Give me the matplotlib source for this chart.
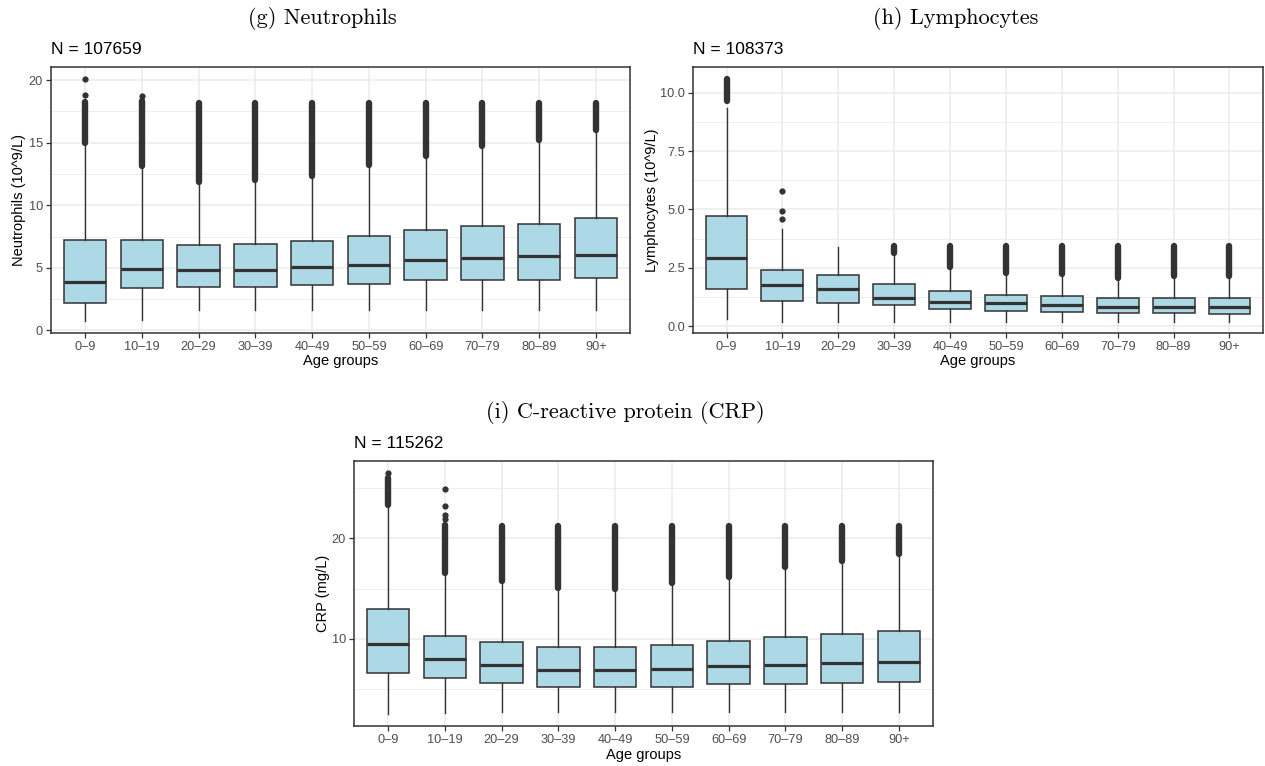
import matplotlib
matplotlib.use("Agg")
import matplotlib.pyplot as plt
import numpy as np

# ---------------- data ----------------
age_groups = ["0–9", "10–19", "20–29", "30–39", "40–49", "50–59", "60–69", "70–79", "80–89", "90+"]

# (g) Neutrophils
neu_n = 107659
neu_q1 = [2.19, 3.42, 3.47, 3.47, 3.66, 3.74, 4.00, 4.06, 4.06, 4.22]
neu_med = [3.85, 4.92, 4.86, 4.84, 5.05, 5.26, 5.61, 5.79, 5.95, 6.04]
neu_q3 = [7.26, 7.24, 6.81, 6.89, 7.16, 7.53, 8.01, 8.33, 8.54, 8.95]
neu_wlo = [0.72, 0.82, 1.62, 1.62, 1.62, 1.62, 1.62, 1.62, 1.62, 1.62]
neu_whi = [14.85, 13.05, 11.75, 11.95, 12.25, 13.15, 13.85, 14.65, 15.15, 15.95]
neu_out_lo = [14.95, 13.15, 11.85, 12.05, 12.35, 13.25, 13.95, 14.75, 15.25, 16.05]
neu_out_hi = [18.25, 18.30, 18.15, 18.15, 18.15, 18.15, 18.15, 18.15, 18.15, 18.15]
neu_extra_x = [0, 0, 1]
neu_extra_y = [18.8, 20.1, 18.7]

# (h) Lymphocytes
lym_n = 108373
lym_q1 = [1.58, 1.06, 0.99, 0.89, 0.74, 0.67, 0.60, 0.57, 0.56, 0.53]
lym_med = [2.92, 1.76, 1.60, 1.20, 1.03, 0.99, 0.92, 0.82, 0.82, 0.82]
lym_q3 = [4.71, 2.42, 2.18, 1.79, 1.49, 1.35, 1.28, 1.20, 1.20, 1.20]
lym_wlo = [0.29, 0.20, 0.20, 0.20, 0.20, 0.20, 0.20, 0.20, 0.20, 0.20]
lym_whi = [9.35, 4.18, 3.40, 3.05, 2.50, 2.22, 2.18, 2.03, 2.08, 2.08]
lym_out_lo = [9.65, None, None, 3.12, 2.55, 2.27, 2.23, 2.08, 2.13, 2.13]
lym_out_hi = [10.60, None, None, 3.45, 3.45, 3.45, 3.45, 3.45, 3.45, 3.45]
lym_extra_x = [1, 1, 1]
lym_extra_y = [4.58, 4.93, 5.80]

# (i) CRP
crp_n = 115262
crp_q1 = [6.56, 6.13, 5.56, 5.23, 5.23, 5.23, 5.46, 5.50, 5.56, 5.66]
crp_med = [9.47, 7.95, 7.38, 6.89, 6.89, 6.95, 7.28, 7.38, 7.62, 7.72]
crp_q3 = [12.98, 10.30, 9.64, 9.21, 9.21, 9.37, 9.80, 10.20, 10.46, 10.80]
crp_wlo = [2.52, 2.58, 2.75, 2.75, 2.75, 2.75, 2.75, 2.75, 2.75, 2.75]
crp_whi = [23.1, 16.4, 15.6, 14.9, 14.8, 15.4, 16.0, 16.9, 17.5, 18.2]
crp_out_lo = [23.3, 16.6, 15.8, 15.1, 15.0, 15.6, 16.2, 17.1, 17.7, 18.4]
crp_out_hi = [26.0, 21.3, 21.2, 21.2, 21.2, 21.2, 21.2, 21.2, 21.2, 21.2]
crp_extra_x = [0, 1, 1, 1, 1]
crp_extra_y = [26.5, 21.9, 22.3, 23.25, 24.9]

# ---------------- style ----------------
W, H = 1265, 766
FILL = "#ADD8E6"
DARK = "#333333"
GRID = "#EBEBEB"
TICKC = "#4D4D4D"
SANS = ["Liberation Sans", "DejaVu Sans"]
SERIF = ["cmr10", "DejaVu Serif"]
plt.rcParams["font.family"] = SANS
plt.rcParams["axes.unicode_minus"] = False

fig = plt.figure(figsize=(W / 100, H / 100), dpi=100)


def fx(x):
    return x / W


def fy(y):
    return 1 - y / H


def make_panel(rect_px, q1, med, q3, wlo, whi, olo, ohi, ex, ey,
               ylim, yticks, yfmt, minor, ylabel, n):
    x0, y0, x1, y1 = rect_px
    ax = fig.add_axes([fx(x0), fy(y1), fx(x1) - fx(x0), (y1 - y0) / H])
    pos = np.arange(len(age_groups))
    ax.set_xlim(-0.6, len(age_groups) - 0.4)
    ax.set_ylim(*ylim)
    ax.set_axisbelow(True)
    # grid
    for m in minor:
        ax.axhline(m, color=GRID, lw=0.6, zorder=0)
    for t in yticks:
        ax.axhline(t, color=GRID, lw=1.1, zorder=0)
    for p in pos:
        ax.axvline(p, color=GRID, lw=1.1, zorder=0)
    # outlier clouds
    for i in range(len(age_groups)):
        if olo[i] is not None:
            ax.plot([pos[i], pos[i]], [olo[i], ohi[i]], color=DARK, lw=4.6,
                    solid_capstyle="round", zorder=2)
    ax.plot(ex, ey, linestyle="none", marker="o", ms=4.5, color=DARK,
            markeredgewidth=0, zorder=2)
    stats = []
    for i in range(len(age_groups)):
        stats.append(dict(med=med[i], q1=q1[i], q3=q3[i], whislo=wlo[i],
                          whishi=whi[i], fliers=[], label=age_groups[i]))
    ax.bxp(stats, positions=pos, widths=0.75, patch_artist=True,
           showcaps=False, showfliers=False,
           boxprops=dict(facecolor=FILL, edgecolor=DARK, linewidth=1.1),
           medianprops=dict(color=DARK, linewidth=2.3),
           whiskerprops=dict(color=DARK, linewidth=1.0),
           manage_ticks=False, zorder=3)
    ax.set_xticks(pos)
    ax.set_xticklabels(age_groups)
    ax.set_yticks(yticks)
    ax.set_yticklabels([yfmt.format(t) for t in yticks])
    ax.tick_params(axis="both", length=3.8, width=0.9, color=DARK,
                   labelcolor=TICKC, labelsize=9.2, pad=2.0)
    for s in ax.spines.values():
        s.set_color(DARK)
        s.set_linewidth(1.1)
    # N text
    fig.text(fx(x0), fy(y0 - 17), "N = {}".format(n), fontsize=12.5,
             ha="left", va="center", color="black")
    # axis titles
    fig.text(fx((x0 + x1) / 2), fy(y1 + 28.5), "Age groups", fontsize=10.5,
             ha="center", va="center", color="black")
    return ax


ax_g = make_panel((51, 67, 630, 333), neu_q1, neu_med, neu_q3, neu_wlo, neu_whi,
                  neu_out_lo, neu_out_hi, neu_extra_x, neu_extra_y,
                  (-0.2, 21.05), [0, 5, 10, 15, 20], "{:g}", [2.5, 7.5, 12.5, 17.5],
                  "Neutrophils (10^9/L)", neu_n)
ax_h = make_panel((693, 67, 1263, 333), lym_q1, lym_med, lym_q3, lym_wlo, lym_whi,
                  lym_out_lo, lym_out_hi, lym_extra_x, lym_extra_y,
                  (-0.29, 11.1), [0.0, 2.5, 5.0, 7.5, 10.0], "{:.1f}",
                  [1.25, 3.75, 6.25, 8.75], "Lymphocytes (10^9/L)", lym_n)
ax_i = make_panel((354, 461, 933, 726), crp_q1, crp_med, crp_q3, crp_wlo, crp_whi,
                  crp_out_lo, crp_out_hi, crp_extra_x, crp_extra_y,
                  (1.32, 27.7), [10, 20], "{:g}", [5, 15, 25], "CRP (mg/L)", crp_n)

# y-axis titles
fig.text(fx(19.5), fy(200), "Neutrophils (10^9/L)", rotation=90, fontsize=10.5,
         ha="center", va="center")
fig.text(fx(652), fy(200), "Lymphocytes (10^9/L)", rotation=90, fontsize=10.5,
         ha="center", va="center")
fig.text(fx(322.5), fy(593), "CRP (mg/L)", rotation=90, fontsize=10.5,
         ha="center", va="center")

# panel captions
fig.text(fx(322), fy(18), "(g) Neutrophils", fontsize=16, family=SERIF,
         ha="center", va="center")
fig.text(fx(956), fy(18), "(h) Lymphocytes", fontsize=16, family=SERIF,
         ha="center", va="center")
fig.text(fx(625), fy(412), "(i) C-reactive protein (CRP)", fontsize=16, family=SERIF,
         ha="center", va="center")

fig.savefig("out.png", dpi=100)
